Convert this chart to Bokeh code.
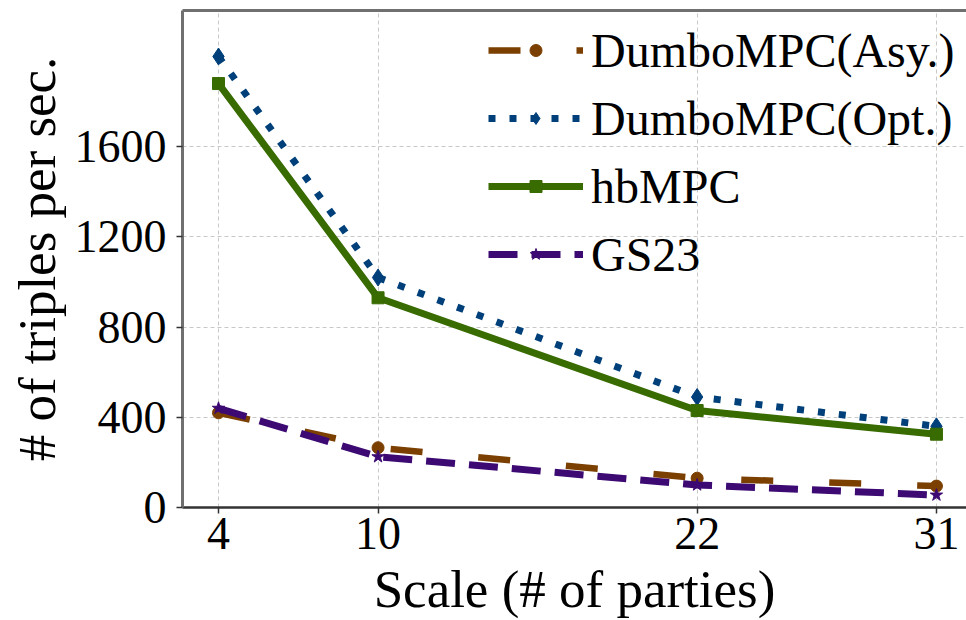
from bokeh.plotting import figure
from bokeh.models import Range1d, FixedTicker, LinearAxis, Legend
from bokeh.embed import file_html
from bokeh.resources import INLINE

parties = [4, 10, 22, 31]
asy = [420, 265, 130, 95]
opt = [2000, 1020, 490, 360]
hbmpc = [1880, 930, 430, 325]
gs23 = [440, 225, 100, 55]
y_ticks = [0, 400, 800, 1200, 1600]
x_title = "Scale (# of parties)"
y_title = "# of triples per sec."

FONT = "Liberation Serif"

p = figure(width=966, height=620, output_backend="svg", toolbar_location=None,
           x_range=Range1d(2.646, 32.13), y_range=Range1d(0, 2204),
           min_border_left=182, min_border_right=0, min_border_top=10,
           min_border_bottom=112)
p.outline_line_color = None
p.background_fill_color = "white"

# grid
for g in (p.xgrid, p.ygrid):
    g.grid_line_color = "#c8c8c8"
    g.grid_line_dash = "4 3"
    g.grid_line_width = 1
p.xgrid.ticker = FixedTicker(ticks=parties)
p.ygrid.ticker = FixedTicker(ticks=y_ticks)

# axes
p.xaxis.ticker = FixedTicker(ticks=parties)
p.yaxis.ticker = FixedTicker(ticks=y_ticks)
for ax in (p.xaxis[0], p.yaxis[0]):
    ax.major_label_text_font = FONT
    ax.major_label_text_font_size = "46px"
    ax.major_label_text_color = "black"
    ax.axis_label_text_font = FONT
    ax.axis_label_text_font_size = "53px"
    ax.axis_label_text_font_style = "normal"
    ax.axis_label_text_color = "black"
    ax.minor_tick_line_color = None
    ax.major_tick_in = 0
    ax.major_tick_out = 6
    ax.major_tick_line_width = 1.5
    ax.major_tick_line_color = "#333333"

p.xaxis.axis_label = x_title
p.yaxis.axis_label = y_title
p.xaxis.axis_line_color = "#333333"
p.xaxis.axis_line_width = 2.5
p.xaxis.major_label_text_line_height = 1.0
p.xaxis.axis_label_text_line_height = 1.0
p.xaxis.major_label_standoff = 4
p.xaxis.axis_label_standoff = 8
p.yaxis.axis_line_color = "#707070"
p.yaxis.axis_line_width = 3
p.yaxis.major_label_standoff = 10
p.yaxis.axis_label_standoff = 6

top = LinearAxis(ticker=FixedTicker(ticks=[]), major_label_text_font_size="0px",
                 major_tick_out=0, major_tick_in=0, minor_tick_out=0, minor_tick_in=0,
                 major_label_standoff=0, axis_line_color="#707070", axis_line_width=3)
p.add_layout(top, "above")

BROWN = "#7b3f00"
NAVY = "#00407a"
GREEN = "#386b00"
PURPLE = "#3c0a72"

r1 = p.line(parties, asy, line_color=BROWN, line_width=6.5, line_dash="32 56", line_join="round")
m1 = p.scatter(parties, asy, marker="circle", size=12, color=BROWN)
r2 = p.line(parties, opt, line_color=NAVY, line_width=7, line_dash="7 14", line_join="round")
m2 = p.scatter(parties, opt, marker="diamond", size=17, color=NAVY)
r3 = p.line(parties, hbmpc, line_color=GREEN, line_width=7, line_join="round")
m3 = p.scatter(parties, hbmpc, marker="square", size=12, color=GREEN)
r4 = p.line(parties, gs23, line_color=PURPLE, line_width=7, line_dash="29 14", line_join="round")
m4 = p.scatter(parties, gs23, marker="star", size=13, color=PURPLE)

legend = Legend(items=[("DumboMPC(Asy.)", [r1, m1]), ("DumboMPC(Opt.)", [r2, m2]),
                       ("hbMPC", [r3, m3]), ("GS23", [r4, m4])],
                location=(306, 219))
legend.label_text_font = FONT
legend.label_text_font_size = "48px"
legend.label_text_color = "black"
legend.glyph_width = 95
legend.glyph_height = 30
legend.label_height = 68
legend.label_standoff = 8
legend.spacing = 0
legend.padding = 5
legend.margin = 0
legend.border_line_color = None
legend.background_fill_alpha = 0
p.add_layout(legend)

open("out.html", "w").write(file_html(p, INLINE))
